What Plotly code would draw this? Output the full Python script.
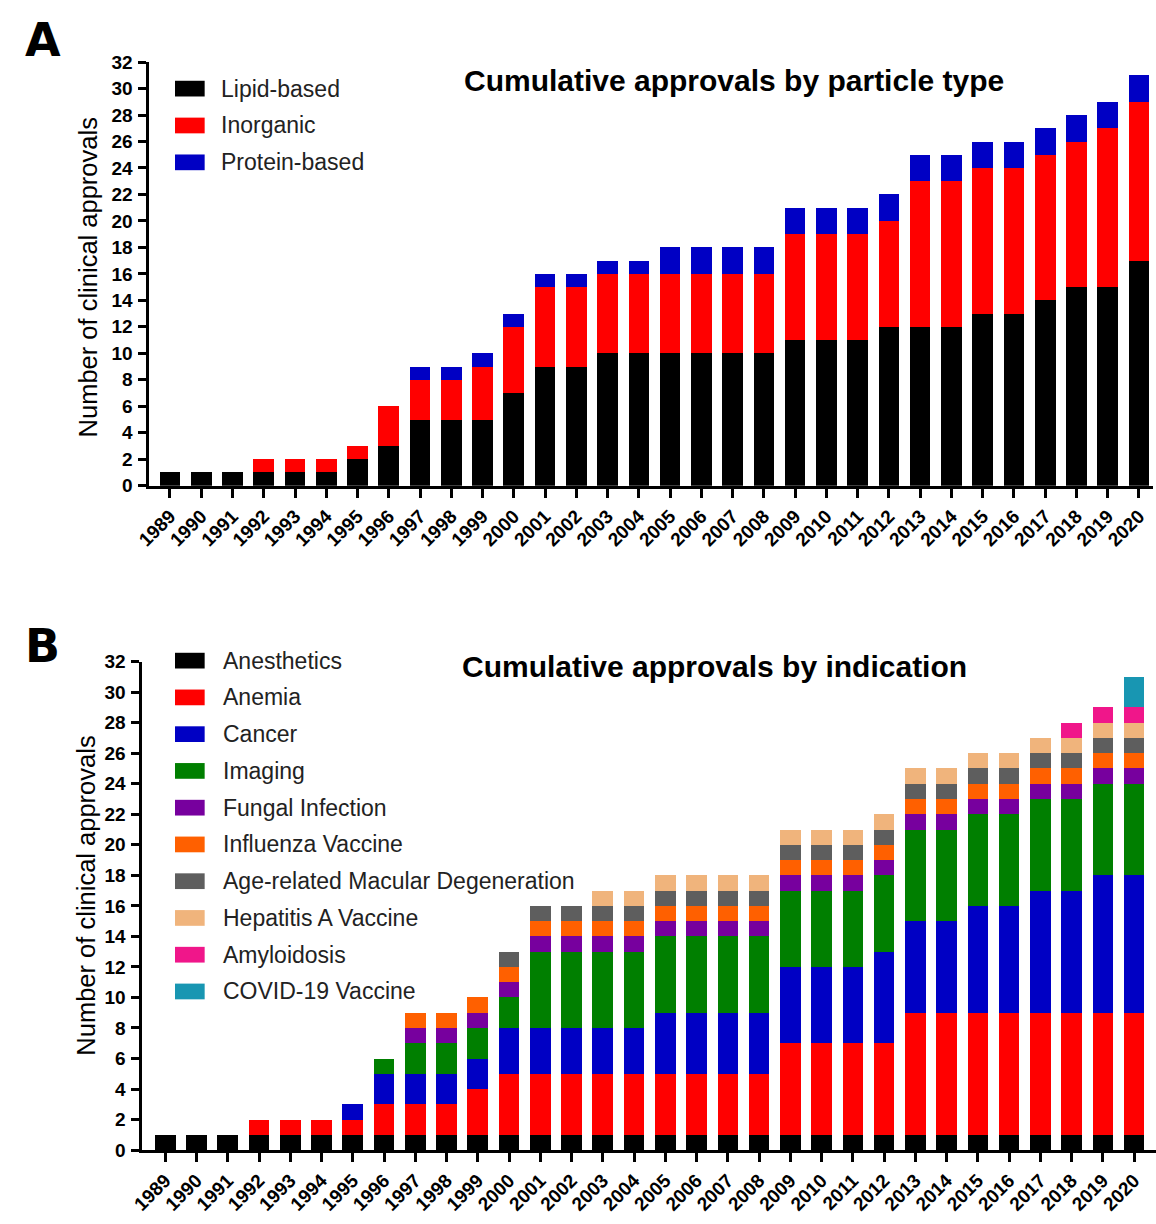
import plotly.graph_objects as go

# ---------------- data ----------------
years = list(range(1989, 2021))

# Panel A: cumulative approvals by particle type
lipid_based = [1, 1, 1, 1, 1, 1, 2, 3, 5, 5, 5, 7, 9, 9, 10, 10,
               10, 10, 10, 10, 11, 11, 11, 12, 12, 12, 13, 13, 14, 15, 15, 17]
inorganic = [0, 0, 0, 1, 1, 1, 1, 3, 3, 3, 4, 5, 6, 6, 6, 6,
             6, 6, 6, 6, 8, 8, 8, 8, 11, 11, 11, 11, 11, 11, 12, 12]
protein_based = [0, 0, 0, 0, 0, 0, 0, 0, 1, 1, 1, 1, 1, 1, 1, 1,
                 2, 2, 2, 2, 2, 2, 2, 2, 2, 2, 2, 2, 2, 2, 2, 2]

# Panel B: cumulative approvals by indication
anesthetics = [1] * 32
anemia = [0, 0, 0, 1, 1, 1, 1, 2, 2, 2, 3, 4, 4, 4, 4, 4,
          4, 4, 4, 4, 6, 6, 6, 6, 8, 8, 8, 8, 8, 8, 8, 8]
cancer = [0, 0, 0, 0, 0, 0, 1, 2, 2, 2, 2, 3, 3, 3, 3, 3,
          4, 4, 4, 4, 5, 5, 5, 6, 6, 6, 7, 7, 8, 8, 9, 9]
imaging = [0, 0, 0, 0, 0, 0, 0, 1, 2, 2, 2, 2, 5, 5, 5, 5,
           5, 5, 5, 5, 5, 5, 5, 5, 6, 6, 6, 6, 6, 6, 6, 6]
fungal = [0, 0, 0, 0, 0, 0, 0, 0, 1, 1, 1, 1, 1, 1, 1, 1,
          1, 1, 1, 1, 1, 1, 1, 1, 1, 1, 1, 1, 1, 1, 1, 1]
influenza = [0, 0, 0, 0, 0, 0, 0, 0, 1, 1, 1, 1, 1, 1, 1, 1,
             1, 1, 1, 1, 1, 1, 1, 1, 1, 1, 1, 1, 1, 1, 1, 1]
amd = [0, 0, 0, 0, 0, 0, 0, 0, 0, 0, 0, 1, 1, 1, 1, 1,
       1, 1, 1, 1, 1, 1, 1, 1, 1, 1, 1, 1, 1, 1, 1, 1]
hepatitis_a = [0, 0, 0, 0, 0, 0, 0, 0, 0, 0, 0, 0, 0, 0, 1, 1,
               1, 1, 1, 1, 1, 1, 1, 1, 1, 1, 1, 1, 1, 1, 1, 1]
amyloidosis = [0] * 29 + [1, 1, 1]
covid = [0] * 31 + [2]

particle_names = ["Lipid-based", "Inorganic", "Protein-based"]
particle_values = [lipid_based, inorganic, protein_based]
particle_colors = ["#000000", "#FF0000", "#0000C4"]

indication_names = ["Anesthetics", "Anemia", "Cancer", "Imaging", "Fungal Infection",
                    "Influenza Vaccine", "Age-related Macular Degeneration",
                    "Hepatitis A Vaccine", "Amyloidosis", "COVID-19 Vaccine"]
indication_values = [anesthetics, anemia, cancer, imaging, fungal, influenza,
                     amd, hepatitis_a, amyloidosis, covid]
indication_colors = ["#000000", "#FF0000", "#0000C4", "#007F00", "#77009E",
                     "#FF6000", "#5E5E5E", "#F0B47C", "#F0168A", "#1896B2"]

y_ticks = list(range(0, 33, 2))

# ---------------- layout helpers (pixel -> paper) ----------------
W, H = 1156, 1224
FONT = "Liberation Sans, Arial, sans-serif"


def px(x):
    return x / W


def py(y):
    return 1 - y / H


fig = go.Figure()

for name, vals, col in zip(particle_names, particle_values, particle_colors):
    fig.add_trace(go.Bar(x=years, y=vals, name=name, marker=dict(color=col, line=dict(width=0)),
                         xaxis="x", yaxis="y", showlegend=False))

for name, vals, col in zip(indication_names, indication_values, indication_colors):
    fig.add_trace(go.Bar(x=years, y=vals, name=name, marker=dict(color=col, line=dict(width=0)),
                         xaxis="x2", yaxis="y2", showlegend=False))


def xaxis_style(domain, rng, anchor):
    return dict(domain=domain, range=rng, anchor=anchor, tickmode="array",
                tickvals=years, ticktext=[str(y) for y in years], tickangle=-45,
                ticks="outside", ticklen=9, tickwidth=3, tickcolor="black",
                showline=True, linewidth=3, linecolor="black", showgrid=False,
                zeroline=False,
                tickfont=dict(family=FONT, size=19, color="black", weight="bold"))


def yaxis_style(domain, anchor):
    return dict(domain=domain, range=[0, 32], anchor=anchor, tickmode="array",
                tickvals=y_ticks, ticks="outside", ticklen=8, tickwidth=3,
                tickcolor="black", showline=True, linewidth=3, linecolor="black",
                showgrid=False, zeroline=False, ticklabelstandoff=2,
                tickfont=dict(family=FONT, size=19, color="black", weight="bold"))


# Panel A geometry (pixels)
a_left, a_right, a_top, a_bottom = 137, 1153, 53, 484
# Panel B geometry (pixels)
b_left, b_right, b_top, b_bottom = 130, 1156, 663, 1160

fig.update_layout(
    width=W, height=H, margin=dict(l=0, r=0, t=0, b=0),
    paper_bgcolor="white", plot_bgcolor="white",
    barmode="stack", bargap=0.34,
    xaxis=xaxis_style([px(a_left), px(a_right)], [1988.34, 2020.45], "y"),
    yaxis=yaxis_style([py(a_bottom), py(a_top)], "x"),
    xaxis2=xaxis_style([px(b_left), px(b_right)], [1988.27, 2020.7], "y2"),
    yaxis2=yaxis_style([py(b_bottom), py(b_top)], "x2"),
)

annotations = []
shapes = []

# Panel letters
for letter, yy in [("A", 31), ("B", 647)]:
    annotations.append(dict(text=f"<b>{letter}</b>", x=px(29), y=py(yy), xref="paper", yref="paper",
                            showarrow=False, xanchor="center", yanchor="middle",
                            font=dict(family="DejaVu Sans, sans-serif", size=46, color="black")))

# Panel titles
annotations.append(dict(text="<b>Cumulative approvals by particle type</b>", x=px(729), y=py(72),
                        xref="paper", yref="paper", showarrow=False, xanchor="center", yanchor="middle",
                        font=dict(family=FONT, size=30, color="black")))
annotations.append(dict(text="<b>Cumulative approvals by indication</b>", x=px(709), y=py(668),
                        xref="paper", yref="paper", showarrow=False, xanchor="center", yanchor="middle",
                        font=dict(family=FONT, size=30, color="black")))

# Y axis titles
for xc, yc in [(75, 272), (72, 901)]:
    annotations.append(dict(text="Number of clinical approvals", x=px(xc), y=py(yc),
                            xref="paper", yref="paper", showarrow=False, textangle=-90,
                            xanchor="center", yanchor="middle",
                            font=dict(family=FONT, size=25.5, color="black")))


# Legends: colour swatch + label
def add_legend(names, colors, x0, y0, step, text_x):
    for i, (nm, col) in enumerate(zip(names, colors)):
        yc = y0 + i * step
        shapes.append(dict(type="rect", xref="paper", yref="paper",
                           x0=px(x0), x1=px(x0 + 30), y0=py(yc - 8), y1=py(yc + 8),
                           fillcolor=col, line=dict(width=0)))
        annotations.append(dict(text=nm, x=px(text_x), y=py(yc), xref="paper", yref="paper",
                                showarrow=False, xanchor="left", yanchor="middle",
                                font=dict(family=FONT, size=23, color="#222222")))


add_legend(particle_names, particle_colors, 163, 80, 37.5, 208)
add_legend(indication_names, indication_colors, 163, 662, 37.4, 210)

fig.update_layout(annotations=annotations, shapes=shapes)

fig.write_html("out.html")
